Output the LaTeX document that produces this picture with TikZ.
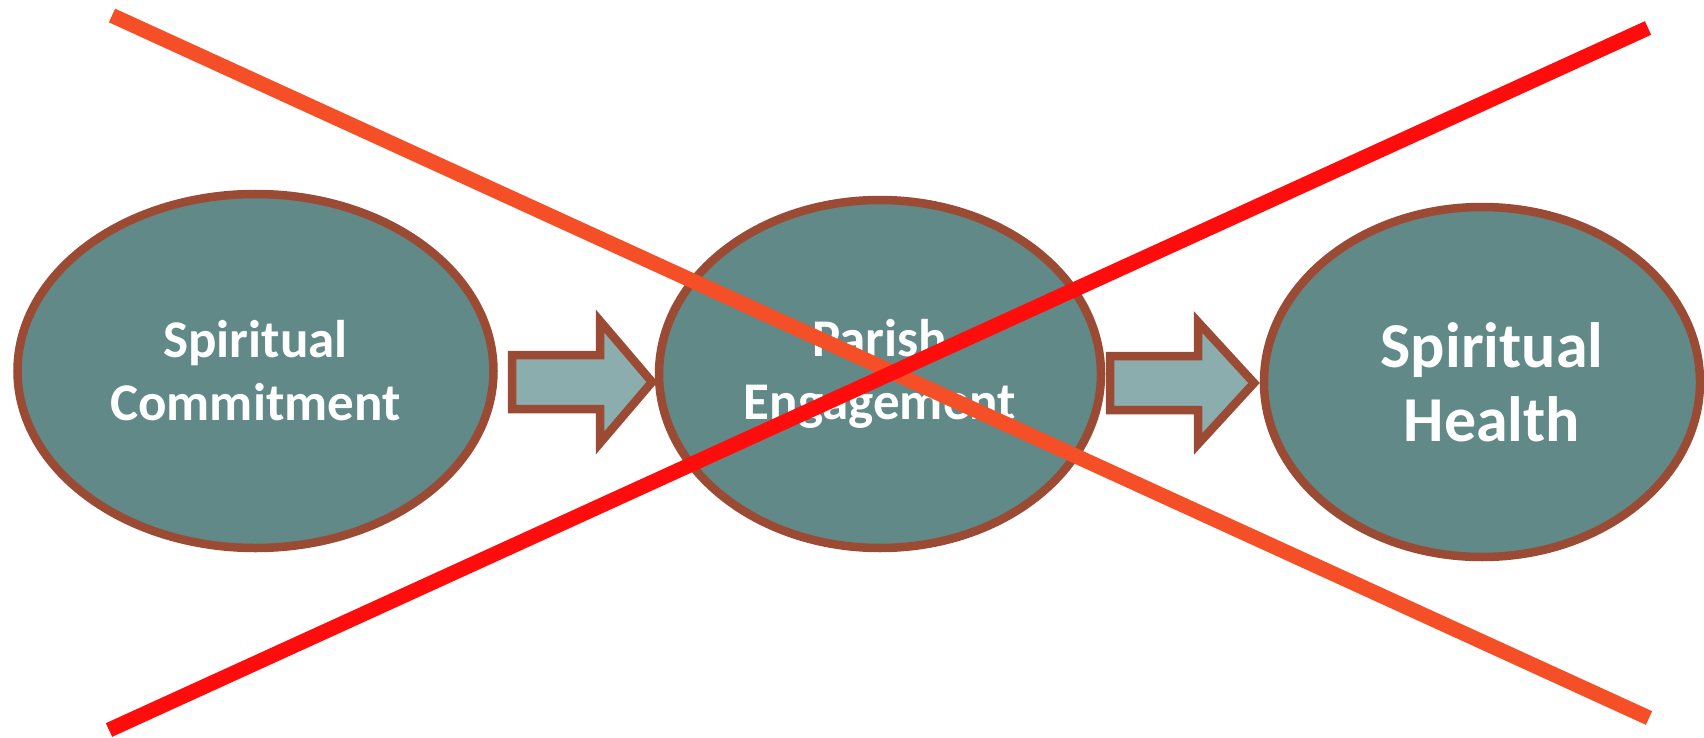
\documentclass[tikz,border=0pt]{standalone}
\usepackage{fontspec}
\setmainfont{Carlito}
\usepackage{tikz}
\usetikzlibrary{shapes}
\usetikzlibrary{positioning}
\definecolor{tealfill}{RGB}{97,137,135}
\definecolor{rustline}{RGB}{155,74,52}
\definecolor{arrowfill}{RGB}{140,173,173}
\definecolor{crossorange}{RGB}{244,79,39}
\definecolor{crossred}{RGB}{255,12,12}
\tikzstyle{oval}=[ellipse, draw=rustline, line width=8.5pt, fill=tealfill, inner sep=0pt, text=white, align=center, font=\bfseries\fontsize{53}{63}\selectfont]
\tikzstyle{blockarrow}=[draw=rustline, line width=8.5pt, fill=arrowfill, line join=miter]
\tikzstyle{strike}=[line width=15pt]

\begin{document}
\begin{tikzpicture}[x=1pt,y=-1pt]
\useasboundingbox (0,0) rectangle (1704,738);

\node[oval, minimum width=476pt, minimum height=354pt](commitment) at (255.5,371){Spiritual\\Commitment};
\node[oval, minimum width=442pt, minimum height=348pt](engagement) at (880,374){Parish\\Engagement};
\node[oval, minimum width=436pt, minimum height=350pt, font=\bfseries\fontsize{64}{74}\selectfont](health) at (1482,382){\hspace*{20pt}Spiritual\\\hspace*{20pt}Health};

% block arrows between the ovals
\coordinate (arrowA) at (512,382);
\coordinate (arrowB) at (1110,383);
\path[blockarrow] (arrowA) ++(0,-27) -- ++(88,0) -- ++(0,-34) -- ++(52,61) -- ++(-52,61) -- ++(0,-34) -- ++(-88,0) -- cycle;
\path[blockarrow] (arrowB) ++(0,-27) -- ++(88,0) -- ++(0,-34) -- ++(56,61) -- ++(-56,61) -- ++(0,-34) -- ++(-88,0) -- cycle;

\coordinate (strikeNW) at (112,15.5);
\coordinate (strikeSE) at (1649,718);
\coordinate (strikeSW) at (109,730);
\coordinate (strikeNE) at (1648,28);

\draw[strike, crossorange] (strikeNW) -- (strikeSE);
\draw[strike, crossred] (strikeSW) -- (strikeNE);

\end{tikzpicture}
\end{document}
